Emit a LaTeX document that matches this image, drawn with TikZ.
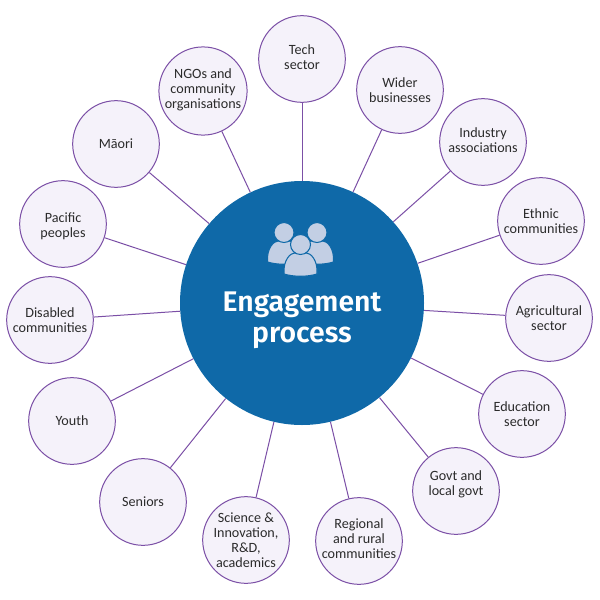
\documentclass[tikz,border=0pt]{standalone}
\usepackage{fontspec}
\setmainfont{Carlito}
\newfontfamily\titlefont{Fira Sans SemiBold}
\usetikzlibrary{positioning}
\definecolor{Plum}  {HTML}{7B4FA6}
\definecolor{PlumF} {HTML}{F5F2FA}
\definecolor{Ocean} {HTML}{0F69A8}
\definecolor{Pale}  {HTML}{C3CFE4}
\definecolor{Ink}   {HTML}{2B2B2B}
\tikzset{
  grp/.style={
    circle, draw=Plum, fill=PlumF, text=Ink,
    font=\fontsize{10.6pt}{11.2pt}\selectfont, align=center,
    inner sep=0pt, minimum size=65pt,
    line width=0.75pt,
  },
  hub/.style={
    circle, fill=Ocean, text=white,
    inner sep=0pt, minimum size=183pt,
  },
  lnk/.style={
    line width=0.75pt, color=Plum,
  },
  person/.style={
    fill=Pale, draw=Ocean, line width=0.8pt,
  },
}
\begin{document}
\begin{tikzpicture}[x=0.75pt,y=-0.75pt]
    \useasboundingbox (0,0) rectangle (600,600);
    \fill[white] (0,0) rectangle (600,600);

    \node[hub] (core) at (302,303) {};
    \node[grp] (tech) at (302,59)  {Tech\\sector\\[-8pt]\vphantom{x}};
    \node[grp] (ngos) at (203,91)  {NGOs and\\community\\organisations\\[-8pt]\vphantom{x}};
    \node[grp] (wider) at (400,90) {Wider\\businesses};
    \node[grp] (indus) at (483,142){Industry\\associations\\[-8pt]\vphantom{x}};
    \node[grp] (ethnic) at (541,221){Ethnic\\communities};
    \node[grp] (agri) at (549,318) {Agricultural\\sector};
    \node[grp] (edu) at (522,414)  {Education\\sector};
    \node[grp] (govt) at (456,491) {Govt and\\local govt\\\vphantom{x}};
    \node[grp] (rural) at (359,541){Regional\\and rural\\communities\\[-8pt]\vphantom{x}};
    \node[grp] (sci) at (246,540)  {Science \&\\Innovation,\\R\&D,\\academics};
    \node[grp] (senior) at (143,502){Seniors};
    \node[grp] (youth) at (72,421) {Youth};
    \node[grp] (disab) at (50,320) {Disabled\\communities};
    \node[grp] (pacific) at (63,224){\vphantom{x}\\[-6pt]Pacific\\peoples};
    \node[grp] (maori) at (116,144){Māori};

    \draw[lnk](core)--(tech); \draw[lnk](core)--(ngos);
    \draw[lnk](core)--(wider); \draw[lnk](core)--(indus);
    \draw[lnk](core)--(ethnic); \draw[lnk](core)--(agri);
    \draw[lnk](core)--(edu); \draw[lnk](core)--(govt);
    \draw[lnk](core)--(rural); \draw[lnk](core)--(sci);
    \draw[lnk](core)--(senior); \draw[lnk](core)--(youth);
    \draw[lnk](core)--(disab); \draw[lnk](core)--(pacific);
    \draw[lnk](core)--(maori);

    % three figures
    \foreach \px/\py in {284/241, 317/241, 300.5/253}{
      \draw[person] (\px-16.5,\py+21) .. controls (\px-17.5,\py+7) and (\px-10,\py) .. (\px-6,\py)
        -- (\px+6,\py) .. controls (\px+10,\py) and (\px+17.5,\py+7) .. (\px+16.5,\py+21)
        .. controls (\px+7,\py+24) and (\px-7,\py+24) .. cycle;
      \draw[person] (\px,\py-8.5) circle[radius=10];
    }

    \node[font=\titlefont\fontsize{21.3pt}{23.5pt}\selectfont, text=white, align=center] (title) at (302,320) {Engagement\\process};
\end{tikzpicture}
\end{document}
